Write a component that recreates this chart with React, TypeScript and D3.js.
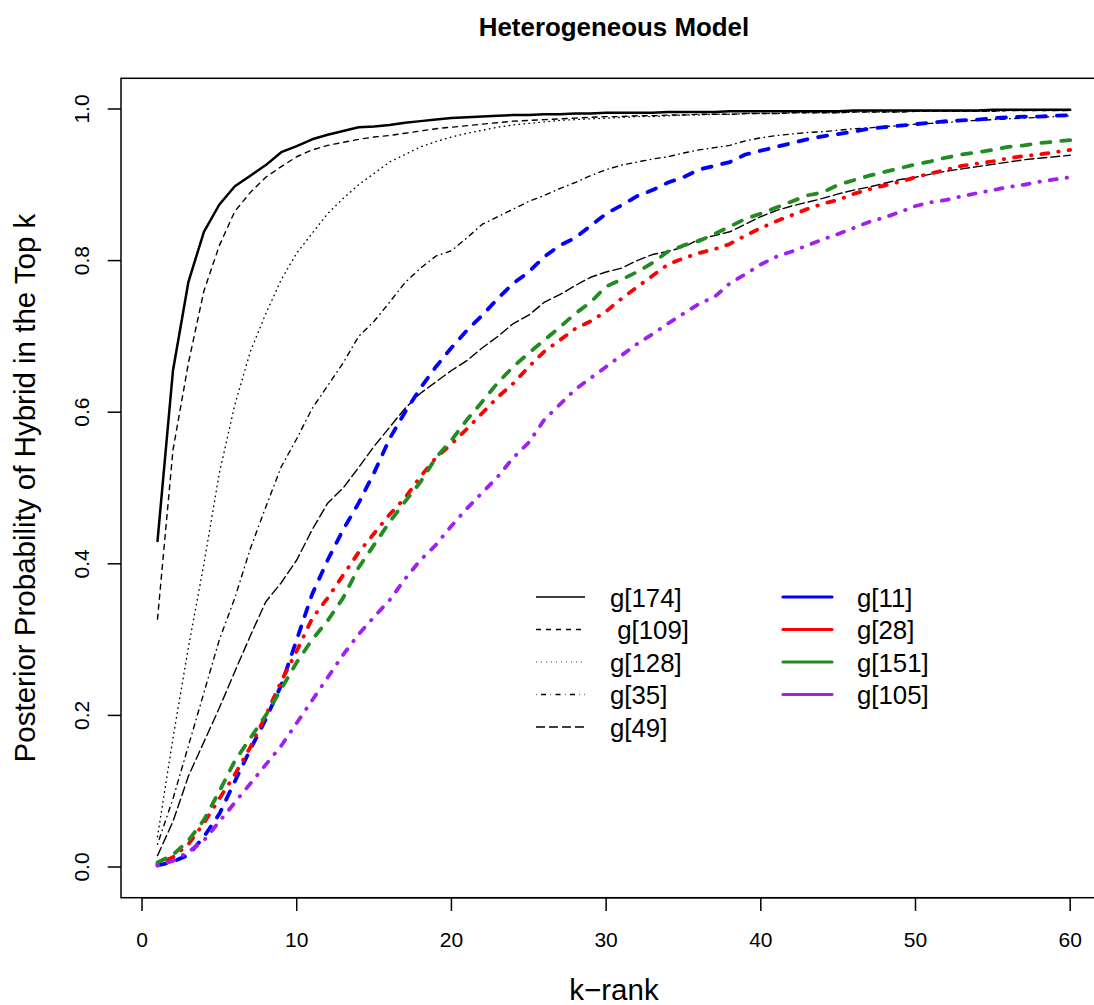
import React from "react";
import * as d3 from "d3";

const kRank = d3.range(1, 61);

const g174 = [0.43,0.655,0.772,0.838,0.874,0.898,0.912,0.926,0.943,0.951,0.96,0.966,0.971,0.976,0.977,0.979,0.982,0.984,0.986,0.988,0.989,0.99,0.991,0.992,0.992,0.993,0.993,0.994,0.994,0.995,0.995,0.995,0.995,0.996,0.996,0.996,0.996,0.997,0.997,0.997,0.997,0.997,0.997,0.997,0.997,0.998,0.998,0.998,0.998,0.998,0.998,0.998,0.998,0.998,0.999,0.999,0.999,0.999,0.999,0.999];
const g109 = [0.327,0.55,0.665,0.76,0.82,0.865,0.89,0.91,0.924,0.937,0.946,0.952,0.956,0.96,0.963,0.965,0.968,0.971,0.974,0.976,0.978,0.98,0.982,0.984,0.985,0.986,0.987,0.988,0.989,0.99,0.99,0.991,0.991,0.992,0.992,0.993,0.993,0.993,0.994,0.994,0.994,0.995,0.995,0.995,0.995,0.996,0.996,0.996,0.996,0.997,0.997,0.997,0.997,0.997,0.997,0.998,0.998,0.998,0.998,0.998];
const g128 = [0.04,0.17,0.29,0.4,0.52,0.61,0.68,0.73,0.775,0.81,0.836,0.862,0.882,0.9,0.915,0.93,0.94,0.95,0.957,0.963,0.968,0.972,0.976,0.979,0.981,0.983,0.985,0.986,0.987,0.988,0.989,0.99,0.99,0.991,0.992,0.992,0.993,0.993,0.994,0.994,0.994,0.995,0.995,0.995,0.995,0.996,0.996,0.996,0.996,0.997,0.997,0.997,0.997,0.997,0.997,0.998,0.998,0.998,0.998,0.998];
const g35 = [0.03,0.09,0.16,0.23,0.3,0.355,0.42,0.475,0.528,0.565,0.605,0.635,0.665,0.7,0.72,0.745,0.771,0.79,0.806,0.813,0.83,0.848,0.858,0.868,0.878,0.886,0.895,0.903,0.912,0.92,0.926,0.93,0.934,0.937,0.942,0.946,0.949,0.952,0.958,0.962,0.965,0.967,0.969,0.97,0.972,0.974,0.975,0.977,0.978,0.98,0.981,0.982,0.984,0.985,0.986,0.987,0.988,0.989,0.99,0.991];
const g49 = [0.015,0.06,0.12,0.165,0.21,0.258,0.305,0.35,0.375,0.405,0.445,0.48,0.5,0.527,0.555,0.58,0.605,0.625,0.64,0.655,0.668,0.685,0.7,0.717,0.728,0.745,0.755,0.767,0.778,0.785,0.79,0.8,0.808,0.812,0.818,0.828,0.833,0.838,0.848,0.858,0.866,0.872,0.877,0.882,0.888,0.893,0.897,0.902,0.907,0.91,0.914,0.918,0.921,0.924,0.927,0.93,0.933,0.935,0.937,0.939];
const g11 = [0.002,0.007,0.016,0.04,0.07,0.113,0.155,0.195,0.24,0.3,0.36,0.405,0.445,0.48,0.52,0.565,0.6,0.632,0.66,0.685,0.708,0.728,0.75,0.77,0.785,0.805,0.82,0.83,0.846,0.862,0.873,0.885,0.893,0.903,0.91,0.92,0.925,0.93,0.94,0.945,0.95,0.955,0.96,0.964,0.967,0.97,0.974,0.976,0.978,0.98,0.982,0.984,0.985,0.986,0.988,0.989,0.99,0.99,0.991,0.992];
const g28 = [0.004,0.013,0.03,0.058,0.09,0.122,0.158,0.2,0.245,0.285,0.328,0.355,0.385,0.415,0.44,0.465,0.487,0.515,0.54,0.558,0.578,0.599,0.62,0.638,0.66,0.68,0.695,0.71,0.72,0.733,0.75,0.765,0.78,0.795,0.803,0.81,0.815,0.822,0.833,0.843,0.852,0.86,0.868,0.875,0.88,0.888,0.894,0.899,0.904,0.91,0.915,0.92,0.925,0.928,0.931,0.935,0.938,0.94,0.943,0.946];
const g151 = [0.006,0.016,0.035,0.062,0.1,0.14,0.17,0.2,0.235,0.27,0.3,0.325,0.355,0.395,0.425,0.455,0.482,0.508,0.54,0.563,0.59,0.614,0.639,0.66,0.678,0.695,0.712,0.73,0.745,0.766,0.775,0.785,0.797,0.812,0.82,0.826,0.835,0.845,0.855,0.862,0.87,0.878,0.886,0.89,0.9,0.906,0.912,0.917,0.922,0.927,0.931,0.936,0.94,0.943,0.946,0.95,0.952,0.955,0.957,0.959];
const g105 = [0.002,0.008,0.02,0.035,0.06,0.085,0.11,0.135,0.16,0.19,0.22,0.25,0.28,0.307,0.33,0.352,0.38,0.405,0.425,0.45,0.473,0.494,0.515,0.54,0.56,0.59,0.61,0.63,0.645,0.66,0.675,0.69,0.703,0.717,0.73,0.743,0.752,0.77,0.782,0.795,0.805,0.812,0.82,0.828,0.835,0.843,0.851,0.857,0.864,0.872,0.877,0.88,0.885,0.889,0.893,0.897,0.9,0.904,0.907,0.91];

const xTicks = [0, 10, 20, 30, 40, 50, 60];
const yTicks = [0, 0.2, 0.4, 0.6, 0.8, 1.0];

const seriesNames = ["g[174]", " g[109]", "g[128]", "g[35]", "g[49]", "g[11]", "g[28]", "g[151]", "g[105]"];
const seriesValues = [g174, g109, g128, g35, g49, g11, g28, g151, g105];
const seriesColors = ["#000000", "#000000", "#000000", "#000000", "#000000", "#0000FF", "#FF0000", "#228B22", "#A020F0"];
const seriesWidths = [2.5, 1.4, 1.4, 1.4, 1.4, 3.8, 3.8, 3.8, 3.8];
const seriesDash = ["", "5 5", "0.5 4.5", "0.5 4.5 5 4.5", "9 4", "9 11", "0.5 10 7 10", "9 11", "0.5 10 7 10"];
const legendDash = ["", "5 5", "0.5 4.5", "0.5 4.5 5 4.5", "9 4", "", "", "", ""];

const FONT = "'Liberation Sans', Arial, Helvetica, sans-serif";

export default function App() {
  const W = 1094, H = 1005;
  const x = d3.scaleLinear().domain([-1.36, 62.36]).range([121, 1106.7]);
  const y = d3.scaleLinear().domain([-0.0405, 1.0405]).range([897.7, 78.3]);
  const line = d3.line<number>().x((_, i) => x(kRank[i])).y((d) => y(d));

  const legendRows = [597, 629.5, 662, 694.5, 727];

  return (
    <svg width={W} height={H} style={{ position: "absolute", left: 0, top: 0, background: "#fff" }} fontFamily={FONT}>
      <rect x={0} y={0} width={W} height={H} fill="#fff" />
      <text x={614} y={36} textAnchor="middle" fontWeight="bold" fontSize={25.9}>Heterogeneous Model</text>

      <rect x={121} y={78.3} width={1106.7 - 121} height={897.7 - 78.3} fill="none" stroke="#000" strokeWidth={1.5} />

      {seriesValues.map((vals, i) => (
        <path key={i} d={line(vals) || ""} fill="none" stroke={seriesColors[i]} strokeWidth={seriesWidths[i]}
          strokeDasharray={seriesDash[i] || undefined} strokeLinecap="round" strokeLinejoin="round" />
      ))}

      <line x1={x(0)} x2={x(60)} y1={897.7} y2={897.7} stroke="#000" strokeWidth={1.5} />
      {xTicks.map((t) => (
        <g key={t}>
          <line x1={x(t)} x2={x(t)} y1={897.7} y2={911} stroke="#000" strokeWidth={1.5} />
          <text x={x(t)} y={947} textAnchor="middle" fontSize={21}>{t}</text>
        </g>
      ))}
      {yTicks.map((t) => (
        <g key={t}>
          <line x1={121} x2={107.7} y1={y(t)} y2={y(t)} stroke="#000" strokeWidth={1.5} />
          <text transform={`translate(89,${y(t)}) rotate(-90)`} textAnchor="middle" fontSize={21}>{t.toFixed(1)}</text>
        </g>
      ))}

      <text x={614} y={1000} textAnchor="middle" fontSize={29.5}>k−rank</text>
      <text transform={`translate(35,488) rotate(-90)`} textAnchor="middle" fontSize={29.5}>Posterior Probability of Hybrid in the Top k</text>

      {seriesNames.map((name, i) => {
        const col = i < 5 ? 0 : 1;
        const row = i < 5 ? i : i - 5;
        const ly = legendRows[row];
        const lx1 = col === 0 ? 536 : 783;
        const lx2 = col === 0 ? 585 : 832;
        const tx = col === 0 ? 610 : 857;
        return (
          <g key={name}>
            <line x1={lx1} x2={lx2} y1={ly} y2={ly} stroke={seriesColors[i]} strokeWidth={i < 5 ? 1.4 : 3.2}
              strokeDasharray={legendDash[i] || undefined} strokeLinecap={i < 5 ? "butt" : "round"} />
            <text x={tx} y={ly + 9.5} fontSize={25.8} style={{ whiteSpace: "pre" }}>{name}</text>
          </g>
        );
      })}
    </svg>
  );
}
